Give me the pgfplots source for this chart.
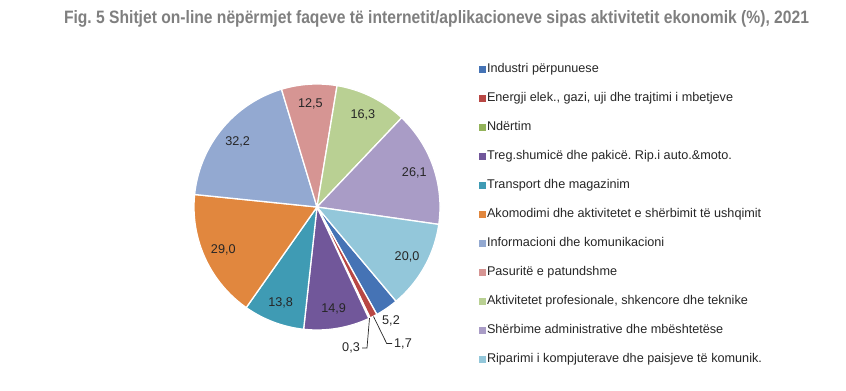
\documentclass[border=0pt]{standalone}
\usepackage{fontspec}
\setmainfont{Liberation Sans}
\usepackage{pgfplots}
\usepackage{pgfplotstable}
\pgfplotsset{compat=1.18}
\frenchspacing

\definecolor{pc0}{HTML}{4573B5}
\definecolor{pc1}{HTML}{B84744}
\definecolor{pc2}{HTML}{93B35A}
\definecolor{pc3}{HTML}{71579A}
\definecolor{pc4}{HTML}{3F9BB4}
\definecolor{pc5}{HTML}{E1873E}
\definecolor{pc6}{HTML}{93A9D1}
\definecolor{pc7}{HTML}{D69593}
\definecolor{pc8}{HTML}{B9D093}
\definecolor{pc9}{HTML}{A99CC6}
\definecolor{pc10}{HTML}{93C7DA}
\definecolor{titlegray}{HTML}{7F7F7F}
\definecolor{txt}{HTML}{262626}

\pgfplotstableread{
v
5.2
1.7
0.3
14.9
13.8
29.0
32.2
12.5
16.3
26.1
20.0
}\pietable

\begin{document}
\frenchspacing
\begin{tikzpicture}
\pgfplotstablegetrowsof{\pietable}
\pgfmathtruncatemacro\pieN{\pgfplotsretval-1}
\gdef\pietotal{0}
\foreach \i in {0,...,\pieN}{%
  \pgfplotstablegetelem{\i}{v}\of\pietable
  \pgfmathsetmacro\pietmpsum{\pietotal+\pgfplotsretval}%
  \xdef\pietotal{\pietmpsum}}
\gdef\piecum{0}
\foreach \i in {0,...,\pieN}{%
  \pgfplotstablegetelem{\i}{v}\of\pietable
  \let\pieval\pgfplotsretval
  \pgfmathsetmacro\pieSa{-50-360*(\piecum/\pietotal)}%
  \pgfmathsetmacro\pieSb{\pieSa-360*(\pieval/\pietotal)}%
  \pgfmathsetmacro\pieSm{(\pieSa+\pieSb)/2}%
  \expandafter\xdef\csname pieA\i\endcsname{\pieSa}%
  \expandafter\xdef\csname pieB\i\endcsname{\pieSb}%
  \expandafter\xdef\csname pieM\i\endcsname{\pieSm}%
  \expandafter\xdef\csname pieV\i\endcsname{\pieval}%
  \pgfmathsetmacro\pieSc{\piecum+\pieval}%
  \xdef\piecum{\pieSc}}
\begin{axis}[
  hide axis, scale only axis,
  width=846bp, height=391bp,
  xmin=0, xmax=846, ymin=0, ymax=391,
  clip=false,
  legend entries={Industri përpunuese,
    {Energji elek., gazi, uji dhe trajtimi i mbetjeve},
    Ndërtim,
    Treg.shumicë dhe pakicë.\ Rip.i auto.\&moto.,
    Transport dhe magazinim,
    Akomodimi dhe aktivitetet e shërbimit të ushqimit,
    Informacioni dhe komunikacioni,
    Pasuritë e patundshme,
    {Aktivitetet profesionale, shkencore dhe teknike},
    Shërbime administrative dhe mbështetëse,
    Riparimi i kompjuterave dhe paisjeve të komunik.},
  legend cell align=left,
  legend style={at={(axis cs:478.5,329)}, anchor=north west,
    draw=none, fill=none, inner sep=0pt, outer sep=0pt,
    row sep=13.5bp,
    font=\fontsize{12.7}{15}\selectfont, text=txt,
    nodes={inner sep=1.5bp, text height=9.5bp, text depth=3bp}},
  legend image code/.code={\fill[#1, draw=none] (0bp,-3.5bp) rectangle (7bp,3.5bp);},
]
\pgfplotsinvokeforeach{0,...,10}{%
  \edef\pietmp{\noexpand\addplot[fill=pc#1, draw=white, line width=1.3bp, line join=round,
     domain=\csname pieB#1\endcsname:\csname pieA#1\endcsname, samples=60]
     ({317+123*cos(x)},{184+123*sin(x)}) -- (axis cs:317,184) -- cycle;}%
  \pietmp
}
\pgfplotsinvokeforeach{3,...,10}{%
  \node[text=txt, font=\fontsize{12.7}{15}\selectfont] at
    (axis cs:{317+103*cos(\csname pieM#1\endcsname)},{184+103*sin(\csname pieM#1\endcsname)})
    {\pgfmathprintnumber[fixed, fixed zerofill, precision=1, use comma, assume math mode=true]{\csname pieV#1\endcsname}};
}
% leader lines for small slices
\addplot[forget plot, txt, line width=0.7bp] coordinates {(373.5,74.5) (386.7,47.5) (392,47.5)};
\addplot[forget plot, txt, line width=0.7bp] coordinates {(369.5,72.8) (367,43) (362,43)};
\node[text=txt, font=\fontsize{12.7}{15}\selectfont] at (axis cs:391,70)
  {\pgfmathprintnumber[fixed, fixed zerofill, precision=1, use comma, assume math mode=true]{\csname pieV0\endcsname}};
\node[text=txt, font=\fontsize{12.7}{15}\selectfont, anchor=west, inner sep=1bp] at (axis cs:393,47.5)
  {\pgfmathprintnumber[fixed, fixed zerofill, precision=1, use comma, assume math mode=true]{\csname pieV1\endcsname}};
\node[text=txt, font=\fontsize{12.7}{15}\selectfont, anchor=east, inner sep=1bp] at (axis cs:361,43)
  {\pgfmathprintnumber[fixed, fixed zerofill, precision=1, use comma, assume math mode=true]{\csname pieV2\endcsname}};
% title
\node[text=titlegray, inner sep=0pt] at (axis cs:436.5,372)
  {\resizebox{745bp}{\height}{\bfseries\fontsize{18}{21}\selectfont Fig. 5 Shitjet on-line nëpërmjet faqeve të internetit/aplikacioneve sipas aktivitetit ekonomik (\%), 2021}};
\end{axis}
\pgfresetboundingbox
\path (current axis.south west) rectangle (current axis.north east);
\end{tikzpicture}
\end{document}
